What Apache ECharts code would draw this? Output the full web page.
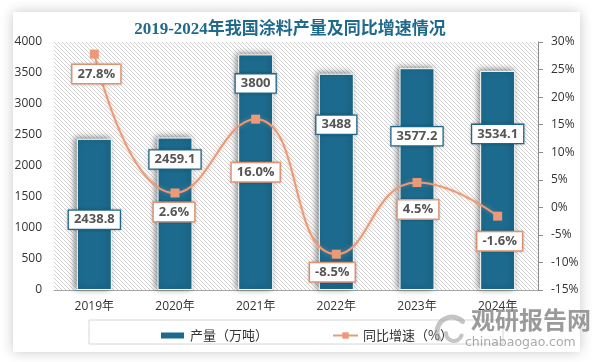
<!DOCTYPE html>
<html><head><meta charset="utf-8">
<script src="https://cdn.jsdelivr.net/npm/echarts@6/dist/echarts.min.js"></script>
<style>html,body{margin:0;padding:0;background:#fff}#c{width:592px;height:362px}</style>
</head><body><div id="c"></div>
<script>
const categories = ['2019年','2020年','2021年','2022年','2023年','2024年'];
const production = [2438.8, 2459.1, 3800, 3488, 3577.2, 3534.1];
const growth = [27.8, 2.6, 16.0, -8.5, 4.5, -1.6];

// label layout (pixels), not data
const barLabelDy = [81, 22, 29, 51, 68, 63];
const lineLabelOffset = [[2,20],[-1,19],[0,53],[-4,18],[1,27],[2,25]];

const BLUE = '#1c6b8e', SALMON = '#eb9a78';

const pc = document.createElement('canvas');
pc.width = 4; pc.height = 4;
const g = pc.getContext('2d');
g.fillStyle = '#ffffff'; g.fillRect(0,0,4,4);
g.strokeStyle = '#d2d2d2'; g.lineWidth = 1;
g.beginPath();
g.moveTo(-1,-1); g.lineTo(5,5);
g.moveTo(-1,3); g.lineTo(1,5);
g.moveTo(3,-1); g.lineTo(5,1);
g.stroke();

const chart = echarts.init(document.getElementById('c'), null, {renderer:'canvas'});
const labelFont = {fontSize: 13, fontWeight: 'bold', color: '#555', fontFamily: 'Open Sans, sans-serif'};

chart.setOption({
  backgroundColor: '#ffffff',
  animation: false,
  title: {
    text: '2019-2024年我国涂料产量及同比增速情况',
    left: 285, textAlign: 'center', top: 16,
    textStyle: {fontSize: 17, fontWeight: 'bold', color: '#1f6a8c', fontFamily: 'Liberation Serif, Noto Sans CJK SC, serif'}
  },
  graphic: [
    {type:'rect', z:-10, shape:{x:13,y:12,width:567,height:340}, style:{fill:'#fff', shadowBlur:12, shadowColor:'rgba(0,0,0,0.22)'}, silent:true},
    {type:'rect', z:-5, shape:{x:89,y:320,width:414,height:24}, style:{fill:'none', stroke:'#d6d6d6', lineWidth:1}, silent:true},
    {type:'arc', z:50, shape:{cx:452,cy:332,r:15,startAngle:Math.PI*0.85,endAngle:Math.PI*1.75}, style:{stroke:'rgba(150,150,150,0.55)', lineWidth:5, fill:'none', lineCap:'round'}, silent:true},
    {type:'arc', z:50, shape:{cx:454,cy:333,r:8,startAngle:Math.PI*0.1,endAngle:Math.PI*1.0}, style:{stroke:'rgba(150,150,150,0.55)', lineWidth:4, fill:'none', lineCap:'round'}, silent:true},
    {type:'text', z:50, left:471, top:308, style:{text:'观研报告网', font:'bold 24px Noto Sans CJK SC', fill:'rgba(130,130,130,0.8)'}, silent:true},
    {type:'text', z:50, left:465, top:336, style:{text:'chinabaogao.com', font:'12.5px DejaVu Sans', fill:'rgba(140,140,140,0.75)'}, silent:true}
  ],
  legend: {
    left: 154, top: 324, itemGap: 64, itemWidth: 25, itemHeight: 8,
    textStyle: {fontSize: 13, color: '#333', fontFamily: 'Noto Sans CJK SC'},
    data: [
      {name:'产量（万吨）', icon:'rect'},
      {name:'同比增速（%）'}
    ]
  },
  grid: {left: 54, right: 54, top: 42, bottom: 72, show: true, borderWidth: 0,
    backgroundColor: {image: pc, repeat: 'repeat'}},
  xAxis: {
    type: 'category', data: categories,
    axisLine: {lineStyle: {color: '#a6a6a6', width: 1}},
    axisTick: {show: false},
    axisLabel: {fontSize: 12, color: '#333', margin: 11, fontFamily: 'Open Sans, Noto Sans CJK SC'}
  },
  yAxis: [
    {type:'value', min:0, max:4000, interval:500, splitLine:{show:false},
     axisLine:{show:false}, axisTick:{show:false},
     axisLabel:{fontSize:12, color:'#333', margin:12, formatter: v => String(v), fontFamily:'Open Sans, sans-serif'}},
    {type:'value', min:-15, max:30, interval:5, splitLine:{show:false},
     axisLine:{show:true, lineStyle:{color:'#8c8c8c'}},
     axisTick:{show:true, inside:false, length:5, lineStyle:{color:'#8c8c8c'}},
     axisLabel:{fontSize:12, color:'#333', margin:13, formatter:'{value}%', fontFamily:'Open Sans, sans-serif'}}
  ],
  series: [
    {
      name: '产量（万吨）', type: 'bar', barWidth: 35, yAxisIndex: 0, z: 2,
      itemStyle: {color: BLUE, borderColor: '#fff', borderWidth: 1,
        shadowColor: 'rgba(0,0,0,0.45)', shadowBlur: 6, shadowOffsetX: -2, shadowOffsetY: -1},
      data: production.map((v, i) => ({
        value: v,
        label: {show: true, position: ['50%', barLabelDy[i]], align: 'center', verticalAlign: 'middle',
          formatter: String(v), backgroundColor: '#fff', borderColor: '#1f6f94', borderWidth: 1.3,
          padding: [3, 5, 2, 5], ...labelFont,
          shadowColor: 'rgba(0,0,0,0.25)', shadowBlur: 3}
      }))
    },
    {
      name: '同比增速（%）', type: 'line', yAxisIndex: 1, smooth: true, z: 5,
      symbol: 'rect', symbolSize: 9,
      lineStyle: {color: SALMON, width: 2, shadowColor: 'rgba(235,154,120,0.5)', shadowBlur: 4},
      itemStyle: {color: SALMON},
      data: growth.map((v, i) => ({
        value: v,
        label: {show: true, position: 'inside', offset: lineLabelOffset[i],
          formatter: v.toFixed(1) + '%', backgroundColor: '#fff', borderColor: SALMON, borderWidth: 1.5,
          padding: [3, 5, 2, 5], ...labelFont,
          shadowColor: 'rgba(0,0,0,0.2)', shadowBlur: 3}
      }))
    }
  ]
});
</script></body></html>
